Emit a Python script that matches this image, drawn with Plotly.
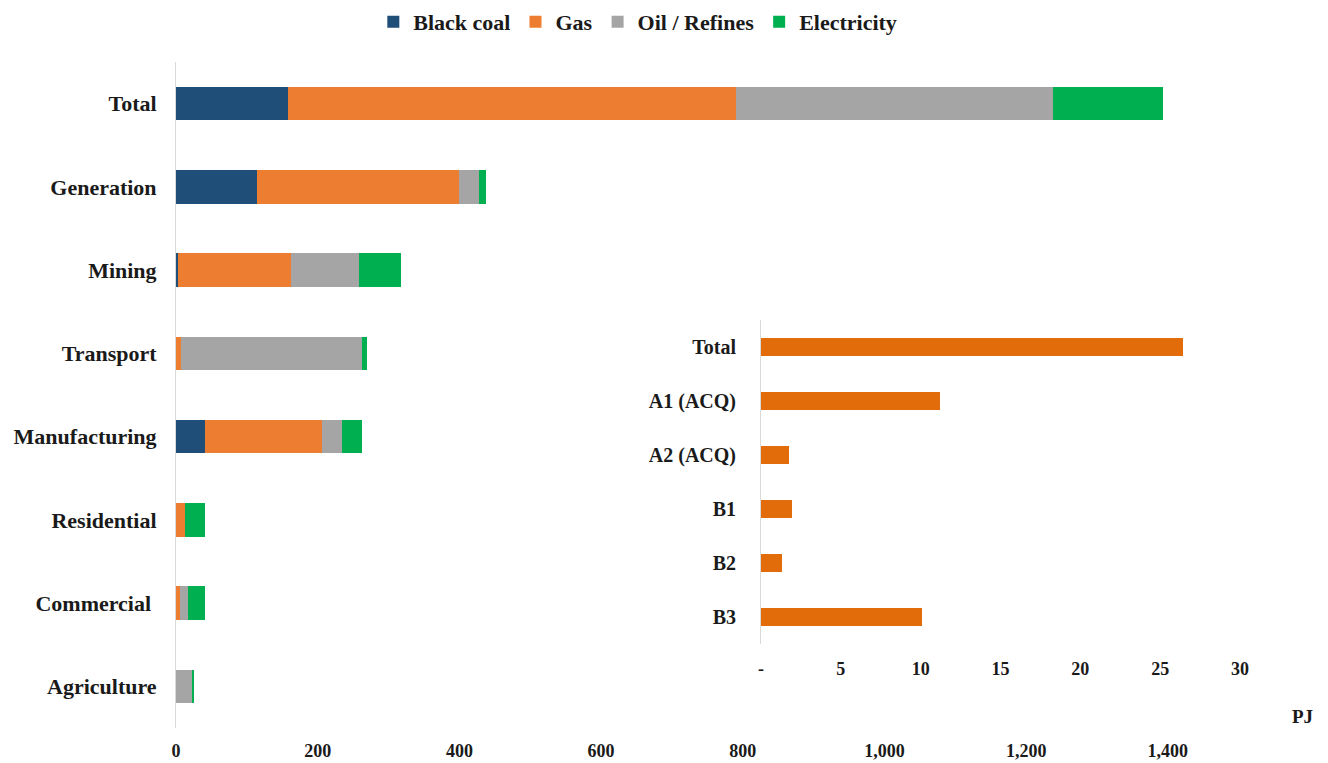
import plotly.graph_objects as go

sectors = ["Total", "Generation", "Mining", "Transport", "Manufacturing",
           "Residential", "Commercial ", "Agriculture"]
black_coal = [158, 114, 3, 0, 41, 0, 0, 0]
gas = [632, 285, 160, 7, 165, 13, 6, 0]
oil = [448, 29, 96, 255, 29, 0, 11, 23]
electricity = [155, 10, 59, 7, 27, 28, 24, 2]

main_ticks = [0, 200, 400, 600, 800, 1000, 1200, 1400]
main_tick_text = ["0", "200", "400", "600", "800", "1,000", "1,200", "1,400"]

inset_cats = ["Total", "A1 (ACQ)", "A2 (ACQ)", "B1", "B2", "B3"]
inset_vals = [26.4, 11.2, 1.75, 1.96, 1.33, 10.1]
inset_ticks = [0, 5, 10, 15, 20, 25, 30]
inset_tick_text = ["-", "5", "10", "15", "20", "25", "30"]

series = [("Black coal", black_coal, "#1F4E79"),
          ("Gas", gas, "#ED7D31"),
          ("Oil / Refines", oil, "#A5A5A5"),
          ("Electricity", electricity, "#00B050")]

FONT = "Liberation Serif, Times New Roman, DejaVu Serif, serif"
fig = go.Figure()
for name, vals, col in series:
    fig.add_trace(go.Bar(y=sectors, x=vals, name=name, orientation="h",
                         marker=dict(color=col, line=dict(width=0)),
                         width=0.4, xaxis="x", yaxis="y"))

fig.add_trace(go.Bar(y=inset_cats, x=inset_vals, orientation="h", showlegend=False,
                     marker=dict(color="#E36C0A", line=dict(width=0)),
                     width=0.33, xaxis="x2", yaxis="y2"))

fig.update_layout(
    width=1320, height=755,
    margin=dict(l=168, r=78, t=54, b=35, autoexpand=False),
    paper_bgcolor="white", plot_bgcolor="white",
    barmode="stack",
    font=dict(family=FONT, color="#1a1a1a", weight="bold"),
    showlegend=True,
    legend=dict(orientation="h", x=0.43, xanchor="center", y=1.06, yanchor="middle",
                font=dict(family=FONT, size=22, weight="bold", color="#1a1a1a"),
                itemwidth=30, tracegroupgap=0, traceorder="normal"),
    xaxis=dict(range=[0, 1516], domain=[0, 1], tickvals=main_ticks, ticktext=main_tick_text,
               showgrid=False, zeroline=False, showline=False,
               tickfont=dict(family=FONT, size=18, weight="bold"),
               ticks="", ticklabelstandoff=10),
    yaxis=dict(categoryorder="array", categoryarray=sectors, autorange=False,
               range=[7.5, -0.5], domain=[0, 1],
               showgrid=False, zeroline=False, showline=True, linecolor="#D9D9D9", linewidth=1,
               tickfont=dict(family=FONT, size=22, weight="bold"),
               ticks="", ticklabelstandoff=14),
    xaxis2=dict(range=[0, 30], domain=[0.5447, 0.9907], anchor="y2",
                tickvals=inset_ticks, ticktext=inset_tick_text,
                showgrid=False, zeroline=False, showline=False,
                tickfont=dict(family=FONT, size=18, weight="bold"),
                ticks="", ticklabelstandoff=12),
    yaxis2=dict(categoryorder="array", categoryarray=inset_cats, autorange=False,
                range=[5.5, -0.5], domain=[0.126, 0.6126], anchor="x2",
                showgrid=False, zeroline=False, showline=True, linecolor="#D9D9D9", linewidth=1,
                tickfont=dict(family=FONT, size=20, weight="bold"),
                ticks="", ticklabelstandoff=20),
    annotations=[dict(text="PJ", xref="paper", yref="paper", x=(1302 - 176) / 1074,
                      y=(728 - 716) / 666, xanchor="center", yanchor="middle", showarrow=False,
                      font=dict(family=FONT, size=19, weight="bold", color="#1a1a1a"))],
)

fig.write_html("out.html")
